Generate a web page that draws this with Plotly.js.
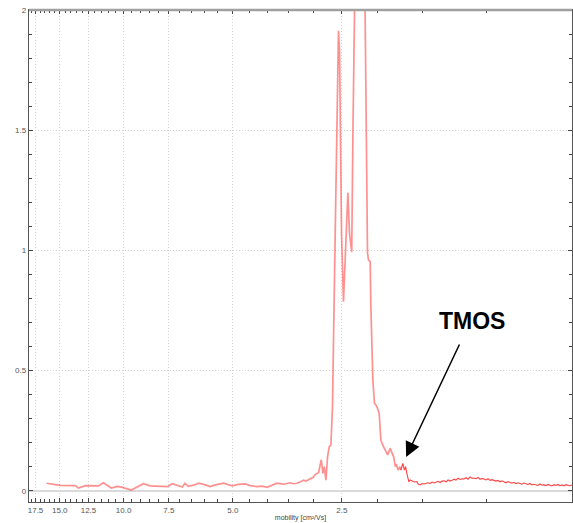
<!DOCTYPE html>
<html>
<head>
<meta charset="utf-8">
<script src="https://cdn.plot.ly/plotly-3.0.1.min.js"></script>
<style>html,body{margin:0;padding:0;background:#fff;}#chart{width:573px;height:523px;}</style>
</head>
<body>
<div id="chart"></div>
<script>
// Mobility [cm²/Vs] and intensity
const mobilityMain = [16.32,14.94,13.58,13.32,12.75,11.74,11.37,10.81,10.40,10.14,9.52,8.99,8.82,8.44,7.92,7.57,7.34,7.06,6.887,6.778,6.63,6.38,6.21,5.95,5.77,5.59,5.30,5.02,4.83,4.62,4.47,4.29,4.15,4.02,3.89,3.78,3.63,3.47,3.41,3.33,3.26,3.19,3.14,3.06,3.00,2.96,2.900,2.851,2.820,2.797,2.767,2.739,2.710,2.681,2.654,2.637,2.620,2.609,2.587,2.571,2.555,2.538,2.522,2.506,2.475,2.433,2.407,2.382,2.349,2.331,2.312,2.283,2.233,2.184,2.156,2.143,2.125,2.112,2.089,2.080,2.067,2.054,2.033,2.002,1.973,1.952,1.920,1.87,1.84,1.82,1.80,1.78,1.77,1.75,1.73,1.719];
const intensityMain = [0.031,0.022,0.021,0.011,0.021,0.020,0.033,0.011,0.018,0.015,0.003,0.024,0.029,0.020,0.019,0.017,0.029,0.022,0.015,0.031,0.018,0.024,0.031,0.024,0.017,0.024,0.031,0.020,0.026,0.028,0.021,0.017,0.019,0.014,0.024,0.031,0.027,0.033,0.029,0.031,0.036,0.044,0.040,0.050,0.056,0.068,0.075,0.128,0.072,0.100,0.044,0.141,0.183,0.190,0.350,0.627,0.905,1.07,1.49,1.71,1.914,1.83,1.49,1.07,0.786,1.07,1.24,1.07,0.993,1.49,2.0,2.8,3.6,2.8,2.0,1.49,0.99,0.96,0.953,0.766,0.627,0.461,0.364,0.350,0.322,0.211,0.183,0.149,0.176,0.162,0.141,0.100,0.111,0.086,0.100,0.086];
const mobilityTail = [1.719,1.698,1.681,1.668,1.655,1.634,1.621,1.603,1.580,1.553,1.541,1.521,1.502,1.483,1.464,1.446,1.428,1.410,1.392,1.375,1.357,1.340,1.323,1.307,1.290,1.274,1.258,1.242,1.226,1.211,1.196,1.181,1.166,1.151,1.136,1.122,1.108,1.094,1.080,1.067,1.053,1.040,1.027,1.014,1.001,0.988,0.976,0.964,0.952,0.940,0.928,0.916,0.905,0.893,0.882,0.871,0.860,0.849,0.838,0.828,0.817,0.807,0.797,0.787,0.777,0.767,0.757,0.748,0.738,0.729,0.720,0.711,0.702,0.693,0.684,0.676,0.667,0.659,0.650,0.642,0.634,0.626,0.618,0.610,0.603,0.595,0.588,0.580];
const intensityTail = [0.086,0.114,0.086,0.100,0.072,0.037,0.045,0.040,0.036,0.038,0.028,0.024,0.030,0.028,0.031,0.033,0.030,0.036,0.032,0.035,0.039,0.034,0.040,0.041,0.037,0.045,0.040,0.043,0.048,0.044,0.052,0.047,0.050,0.049,0.054,0.048,0.057,0.052,0.053,0.050,0.055,0.047,0.051,0.049,0.045,0.050,0.043,0.046,0.044,0.040,0.043,0.037,0.041,0.036,0.033,0.038,0.034,0.031,0.035,0.029,0.033,0.030,0.027,0.032,0.028,0.026,0.030,0.024,0.027,0.025,0.022,0.028,0.023,0.025,0.021,0.026,0.023,0.020,0.025,0.022,0.026,0.021,0.024,0.020,0.025,0.022,0.021,0.024];

const xTickVals = [17.5,15.0,12.5,10.0,7.5,5.0,2.5];
const xTickText = ['17.5','15.0','12.5','10.0','7.5','5.0','2.5'];
const xMinorVals = [1.0,1.5,2.0,3.0,3.5,4.0,4.5,5.5,6.0,6.5,7.0,8.0,8.5,9.0,9.5,10.5,11.0,11.5,12.0,13.0,13.5,14.0,14.5,15.5,16.0,16.5,17.0,18.0];
const yTickVals = [0,0.5,1,1.5,2];
const yTickText = ['0','0.5','1','1.5','2'];

const traces = [
  {x: mobilityMain, y: intensityMain, type:'scatter', mode:'lines',
   line:{color:'rgba(255,70,70,0.6)', width:1.7}, hoverinfo:'skip'},
  {x: mobilityTail, y: intensityTail, type:'scatter', mode:'lines',
   line:{color:'rgba(255,30,30,0.85)', width:1.1}, hoverinfo:'skip'}
];

const tickFont = {family:'Liberation Sans, Arial, sans-serif', size:8, color:'#555'};

const layout = {
  width:573, height:523,
  margin:{l:29, r:1, t:10, b:21},
  paper_bgcolor:'#fff', plot_bgcolor:'#fff',
  showlegend:false,
  xaxis:{
    type:'log', range:[1.261, -0.2367], autorange:false,
    tickmode:'array', tickvals:xTickVals, ticktext:xTickText,
    ticks:'inside', ticklen:4, tickcolor:'#444', tickwidth:1,
    tickfont:tickFont,
    showgrid:true, gridcolor:'#d4d4d4', griddash:'1px,2px', gridwidth:1,
    showline:true, linecolor:'#555', linewidth:1.2, mirror:'ticks',
    zeroline:false,
    minor:{tickmode:'array', tickvals:xMinorVals, ticks:'inside', ticklen:3, tickcolor:'#444', showgrid:false},
    title:{text:'mobility [cm²/Vs]', font:{family:'Liberation Sans, Arial, sans-serif', size:7, color:'#444'}, standoff:1},
    automargin:false
  },
  yaxis:{
    range:[-0.047, 2], autorange:false,
    tickmode:'array', tickvals:yTickVals, ticktext:yTickText,
    ticks:'inside', ticklen:4, tickcolor:'#444',
    tickfont:tickFont,
    showgrid:true, gridcolor:'#d4d4d4', griddash:'1px,2px', gridwidth:1,
    zeroline:true, zerolinecolor:'#dadada', zerolinewidth:2,
    showline:true, linecolor:'#555', linewidth:1.2, mirror:'ticks',
    minor:{dtick:0.1, ticks:'inside', ticklen:3, tickcolor:'#444', showgrid:false},
    automargin:false
  },
  shapes:[
    {type:'line', xref:'paper', yref:'paper', x0:0, x1:1, y0:1, y1:1, line:{color:'#a0a0a0', width:2.5}}
  ],
  annotations:[
    {x:0.2208, y:0.140, xref:'x', yref:'y', text:'', showarrow:true,
     ax:54, ay:-114, arrowhead:2, arrowsize:2, arrowwidth:1.5, arrowcolor:'#000', standoff:0},
    {x:0.039, y:0.706, xref:'x', yref:'y', text:'<b>TMOS</b>', showarrow:false,
     font:{family:'Liberation Sans, Arial, sans-serif', size:23, color:'#000'}}
  ]
};

Plotly.newPlot('chart', traces, layout, {staticPlot:true, displayModeBar:false});
</script>
</body>
</html>
